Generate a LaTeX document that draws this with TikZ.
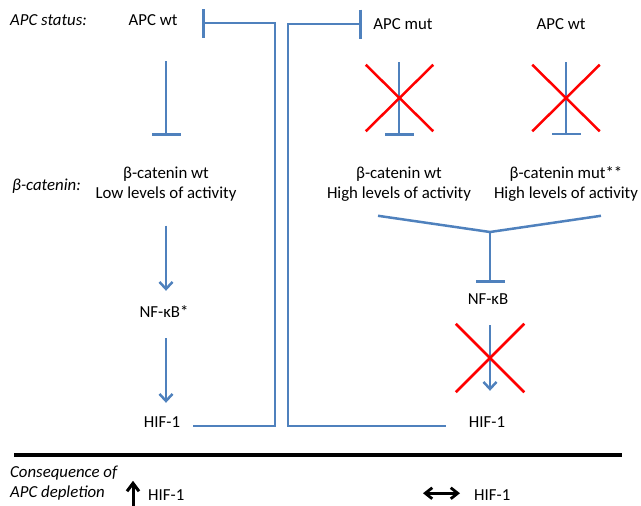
\documentclass[tikz,border=0pt]{standalone}
\usepackage{fontspec}
\setmainfont{Carlito}
\usepackage{tikz}
\usetikzlibrary{arrows.meta, shapes.misc}
\definecolor{pathblue}{RGB}{79,129,189}
\tikzstyle{txt} = [inner sep=0pt, text height=11pt, text depth=3.5pt, anchor=base, font=\fontsize{16.8}{20}\selectfont]
\tikzstyle{twoline} = [inner sep=0pt, align=center, anchor=base, font=\fontsize{16.8}{20}\selectfont]
\tikzstyle{side} = [txt, anchor=base west, font=\fontsize{16.8}{20}\selectfont\itshape]
\tikzstyle{arrow} = [line width=2.5pt, draw=pathblue, -{Straight Barb[length=7pt,width=13pt]}]
\tikzstyle{inhibit} = [line width=2.5pt, draw=pathblue, -{Bar[width=29pt]}]
\tikzstyle{link} = [line width=2.5pt, draw=pathblue]
\tikzstyle{crossx} = [cross out, draw=red, line width=2.5pt, inner sep=0pt, minimum width=65pt, minimum height=64pt]
\tikzstyle{sepline} = [line width=3.5pt, draw=black]
\tikzstyle{rise} = [line width=3pt, draw=black, -{Straight Barb[length=8pt,width=12pt]}]
\tikzstyle{change} = [line width=2.8pt, draw=black, {Straight Barb[length=7pt,width=11pt]}-{Straight Barb[length=7pt,width=11pt]}]

\begin{document}
\begin{tikzpicture}[x=1pt, y=-1pt]
    \useasboundingbox (0,0) rectangle (641,506);

    % row labels
    \node (status) [side] at (10,25) {APC status:};
    \node (catlbl) [side] at (12,190) {β-catenin:};

    % APC wt
    \node (apcL) [txt] at (153,25) {APC wt};
    \node (betaL) [twoline] at (166,198) {β-catenin wt\\Low levels of activity};
    \node (nfL) [txt] at (164,317) {NF-κB*};
    \node (hifL) [txt] at (162,427) {HIF-1};

    % APC mut and APC wt with mutated beta-catenin
    \node (apcM) [txt] at (403,30) {APC mut};
    \node (betaM) [twoline] at (399,198) {β-catenin wt\\High levels of activity};
    \node (apcR) [txt] at (561,30) {APC wt};
    \node (betaR) [twoline] at (566,198) {β-catenin mut**\\High levels of activity};
    \node (nfR) [txt] at (488,304) {NF-κB};
    \node (hifR) [txt] at (487,427) {HIF-1};

    \coordinate (kneeL) at (275,23);
    \coordinate (kneeR) at (288,24);
    \coordinate (join) at (490,232);

    \draw [inhibit, shorten <=32.5pt, shorten >=30.5pt] (apcL.south -| betaL.north) -- (betaL.north);
    \draw [arrow, shorten <=24.7pt, shorten >=15pt] (betaL.south) -- (betaL.south |- nfL.north);
    \draw [arrow, shorten <=17.5pt, shorten >=13pt] (nfL.south -| betaL) -- (hifL.north -| betaL);
    \draw [inhibit, shorten <=13pt, shorten >=24.6pt] ([yshift=-2.75pt]hifL.east) -| (kneeL) -- (apcL.east |- kneeL);

    \draw [inhibit, shorten <=23pt, shorten >=11.5pt] ([yshift=-2.75pt]hifR.west) -| (kneeR) -- (apcM.west |- kneeR);
    \draw [inhibit, shorten <=28.5pt, shorten >=30.5pt] (apcM.south -| betaM.north) -- (betaM.north);
    \draw [inhibit, shorten <=28.5pt, shorten >=30.5pt] (apcR.south -| betaR.north) -- (betaR.north);
    \draw [link] ([xshift=-21pt, yshift=-14.7pt]betaM.south) -- (join) -- ([xshift=35pt, yshift=-14.7pt]betaR.south);
    \draw [inhibit, shorten >=10pt] (join) -- (join |- nfR.north);
    \draw [arrow, shorten <=17.5pt, shorten >=25pt] (join |- nfR.south) -- (join |- hifR.north);

    % blocked steps
    \node (xM) [crossx] at (399.5,98) {};
    \node (xR) [crossx] at (566,98) {};
    \node (xN) [crossx, minimum width=66pt, minimum height=66pt] at (490,358) {};

    % consequence row
    \draw [sepline] (14,455) -- (622,455);
    \node (cons) [twoline, anchor=base west, align=left, font=\fontsize{16.8}{20}\selectfont\itshape] at (10,497) {Consequence of\\APC depletion};
    \node (hifB1) [txt, anchor=base west] at (148,500) {HIF-1};
    \node (hifB2) [txt, anchor=base west] at (474,500) {HIF-1};
    \coordinate (upfoot) at (133,506);
    \draw [rise] (upfoot) -- ([yshift=8pt]hifB1.north -| upfoot);
    \draw [change] ([xshift=-51pt, yshift=3pt]hifB2.west) -- ([xshift=-14pt, yshift=3pt]hifB2.west);

\end{tikzpicture}
\end{document}
